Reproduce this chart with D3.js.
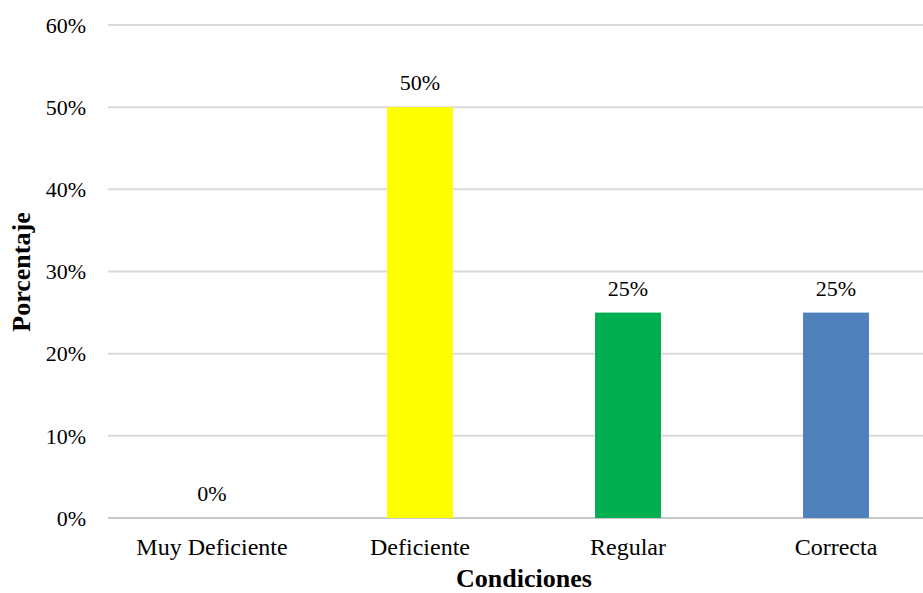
<!DOCTYPE html>
<html><head><meta charset="utf-8">
<script src="https://cdn.jsdelivr.net/npm/d3@7"></script>
<style>body{margin:0;background:#fff}svg{display:block}</style>
</head><body>
<svg id="c" width="923" height="593"></svg>
<script>
const categories = ["Muy Deficiente","Deficiente","Regular","Correcta"];
const values = [0, 0.50, 0.25, 0.25];
const colors = ["#FFFF00","#FFFF00","#00B050","#4F81BD"];
const yTicks = [0,0.1,0.2,0.3,0.4,0.5,0.6];

const svg = d3.select("#c");
const font = "'Liberation Serif','Times New Roman',serif";
const x = d3.scaleBand().domain(categories).range([108, 940]).paddingInner(0.683).paddingOuter(0.3415);
const y = d3.scaleLinear().domain([0,0.6]).range([518, 25]);

svg.append("g").selectAll("line").data(yTicks).join("line")
  .attr("x1",108).attr("x2",923).attr("y1",d=>y(d)).attr("y2",d=>y(d))
  .attr("stroke",d=>d===0?"#C8C8C8":"#D9D9D9").attr("stroke-width",2);

svg.append("g").selectAll("text").data(yTicks).join("text")
  .attr("x",86).attr("y",d=>y(d)).attr("dy","0.35em").attr("text-anchor","end")
  .style("font-family",font).style("font-size","22px").attr("fill","#000")
  .text(d=>d3.format(".0%")(d));

svg.append("g").selectAll("rect").data(values).join("rect")
  .attr("x",(d,i)=>x(categories[i])).attr("width",x.bandwidth())
  .attr("y",d=>y(d)).attr("height",d=>y(0)-y(d))
  .attr("fill",(d,i)=>colors[i]);

svg.append("g").selectAll("text").data(values).join("text")
  .attr("x",(d,i)=>x(categories[i])+x.bandwidth()/2).attr("y",d=>y(d)-17)
  .attr("text-anchor","middle")
  .style("font-family",font).style("font-size","22px").attr("fill","#000")
  .text(d=>d3.format(".0%")(d));

svg.append("g").selectAll("text").data(categories).join("text")
  .attr("x",d=>x(d)+x.bandwidth()/2).attr("y",555)
  .attr("text-anchor","middle")
  .style("font-family",font).style("font-size","24px").attr("fill","#000")
  .text(d=>d);

svg.append("text").attr("x",524).attr("y",587).attr("text-anchor","middle")
  .style("font-family",font).style("font-size","26px").style("font-weight","bold")
  .text("Condiciones");

svg.append("text").attr("transform","translate(30,272) rotate(-90)").attr("text-anchor","middle")
  .style("font-family",font).style("font-size","26px").style("font-weight","bold")
  .text("Porcentaje");
</script>
</body></html>
